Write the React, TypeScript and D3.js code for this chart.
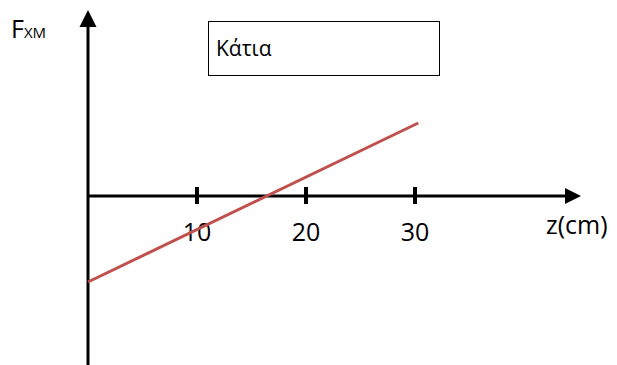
import React from "react";
import * as d3 from "d3";

// ---- data ----
const zTicks: number[] = [10, 20, 30];
const tickLabels: string[] = ["10", "20", "30"];
const lineZ: number[] = [0, 30.3];
const lineF: number[] = [-0.86, 0.73];
const legendLabel = "Κάτια";
const xAxisTitle = "z(cm)";
const yAxisTitleMain = "F";
const yAxisTitleSub = "XM";

const W = 617;
const H = 365;
const FONT = "'Open Sans', 'Noto Sans', sans-serif";

export default function App() {
  const x = d3.scaleLinear().domain([0, 30]).range([88, 415]);
  const y = d3.scaleLinear().domain([-1.69, 1.86]).range([365, 10]);

  const x0 = x(0);
  const y0 = y(0);

  const pts: [number, number][] = lineZ.map((z, i) => [x(z), y(lineF[i])]);
  const lineGen = d3.line<[number, number]>().x((d) => d[0]).y((d) => d[1]);

  const yTop = y(1.86);
  const yBottom = y(-1.69);
  const xEnd = 581;

  return (
    <svg
      width={W}
      height={H}
      style={{ position: "absolute", left: 0, top: 0, background: "#fff" }}
    >
      <rect x={0} y={0} width={W} height={H} fill="#fff" />

      {/* y axis */}
      <line x1={x0} x2={x0} y1={yBottom} y2={yTop + 14} stroke="#000" strokeWidth={3} />
      <path
        d={`M${x0},${yTop} L${x0 - 8.5},${yTop + 17} L${x0 + 8.5},${yTop + 17} Z`}
        fill="#000"
      />

      {/* x axis */}
      <line x1={x0} x2={xEnd - 14} y1={y0} y2={y0} stroke="#000" strokeWidth={3} />
      <path
        d={`M${xEnd},${y0} L${xEnd - 16},${y0 - 8} L${xEnd - 16},${y0 + 8} Z`}
        fill="#000"
      />

      {/* ticks */}
      {zTicks.map((t) => (
        <line
          key={t}
          x1={x(t)}
          x2={x(t)}
          y1={y0 - 9}
          y2={y0 + 8}
          stroke="#000"
          strokeWidth={4}
        />
      ))}
      {zTicks.map((t, i) => (
        <text
          key={"l" + t}
          x={x(t)}
          y={241}
          textAnchor="middle"
          fontFamily={FONT}
          fontSize={25}
          fill="#000"
        >
          {tickLabels[i]}
        </text>
      ))}

      {/* data line */}
      <path d={lineGen(pts) || ""} fill="none" stroke="#C0504D" strokeWidth={3} />

      {/* axis titles */}
      <text x={546} y={234} fontFamily={FONT} fontSize={25} fill="#000">
        {xAxisTitle}
      </text>
      <text x={11} y={38} fontFamily={FONT} fontSize={25} fill="#000">
        {yAxisTitleMain}
        <tspan fontSize={15}>{yAxisTitleSub}</tspan>
      </text>

      {/* legend box */}
      <rect x={208.5} y={21.5} width={231} height={54} fill="#fff" stroke="#000" strokeWidth={1} />
      <text x={216} y={56} fontFamily={FONT} fontSize={21} fill="#000">
        {legendLabel}
      </text>
    </svg>
  );
}
